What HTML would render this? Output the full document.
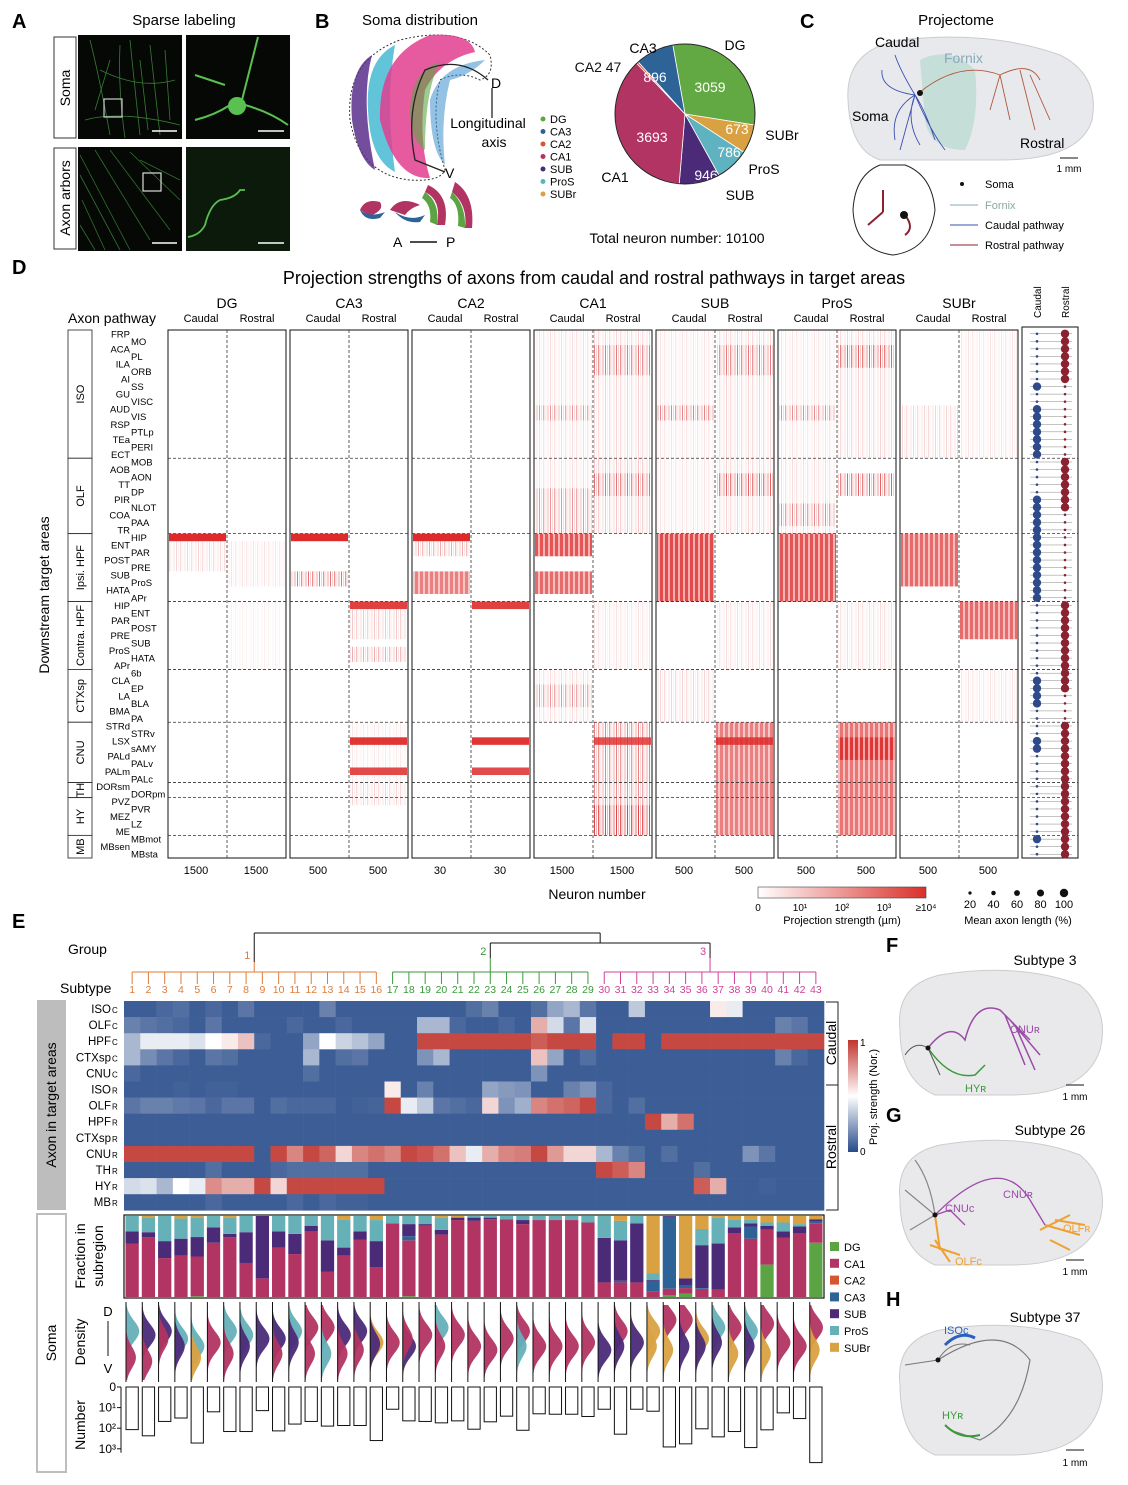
<!DOCTYPE html>
<html><head><meta charset="utf-8">
<style>
html,body{margin:0;padding:0;background:#fff;}
svg{display:block;font-family:"Liberation Sans",Arial,sans-serif;}
.pl{font-size:20px;font-weight:bold;}
</style></head>
<body>
<svg id="fig" width="1128" height="1485" viewBox="0 0 1128 1485" xmlns="http://www.w3.org/2000/svg">
<defs>
<pattern id="stripes" width="11" height="4" patternUnits="userSpaceOnUse">
<rect x="0" y="0" width="1" height="4" fill="#d8282a"/>
<rect x="2" y="0" width="0.8" height="4" fill="#e04040" opacity="0.45"/>
<rect x="4" y="0" width="1.3" height="4" fill="#d8282a" opacity="0.8"/>
<rect x="6.5" y="0" width="0.8" height="4" fill="#e04040" opacity="0.35"/>
<rect x="8.5" y="0" width="1" height="4" fill="#d8282a" opacity="0.65"/>
</pattern>
<pattern id="dense" width="5" height="4" patternUnits="userSpaceOnUse">
<rect x="0" y="0" width="3" height="4" fill="#dd2b2b"/>
<rect x="3" y="0" width="2" height="4" fill="#f2a0a0"/>
</pattern>
<linearGradient id="dgrad" x1="0" x2="1" y1="0" y2="0"><stop offset="0" stop-color="#fff"/><stop offset="1" stop-color="#d9302a"/></linearGradient>
<linearGradient id="egrad" x1="0" x2="0" y1="0" y2="1"><stop offset="0" stop-color="#c0342d"/><stop offset="0.5" stop-color="#fff"/><stop offset="1" stop-color="#274b8a"/></linearGradient>
</defs>

<!-- Panel A -->
<g>
<text class="pl" x="12" y="28">A</text>
<text x="184" y="25" font-size="15" text-anchor="middle">Sparse labeling</text>
<rect x="54" y="37" width="22" height="101" fill="#fff" stroke="#333"/>
<text transform="translate(70,88) rotate(-90)" font-size="14" text-anchor="middle">Soma</text>
<rect x="54" y="148" width="22" height="101" fill="#fff" stroke="#333"/>
<text transform="translate(70,198) rotate(-90)" font-size="14" text-anchor="middle">Axon arbors</text>
<rect x="78" y="35" width="104" height="104" fill="#050805"/>
<rect x="186" y="35" width="104" height="104" fill="#050805"/>
<rect x="78" y="147" width="104" height="104" fill="#050805"/>
<rect x="186" y="147" width="104" height="104" fill="#0b1a0b"/>
<g stroke="#4fae4a" stroke-width="0.8" fill="none" opacity="0.7">
<path d="M90 40 Q100 80 110 135 M120 45 Q118 90 125 138 M130 40 Q135 90 140 135 M140 60 L148 130 M100 70 Q140 90 175 80 M150 45 Q155 90 160 135 M85 120 Q120 110 180 125 M110 60 L95 110 M165 50 L170 120"/>
</g>
<rect x="104" y="99" width="18" height="18" fill="none" stroke="#ccc" stroke-width="1.2"/>
<path d="M258 37 L242 100 M230 105 Q215 115 195 120 M245 105 Q270 112 288 125 M195 75 Q210 80 225 85" stroke="#5ac050" stroke-width="2" fill="none"/>
<circle cx="237" cy="106" r="9" fill="#5ac050"/>
<g stroke="#46a042" stroke-width="0.8" fill="none" opacity="0.7">
<path d="M80 155 L130 250 M80 175 L120 250 M82 200 L105 250 M95 150 L150 240 M110 150 L170 230 M130 152 L180 200 M80 225 L95 250 M140 160 L180 180"/>
</g>
<rect x="143" y="173" width="18" height="18" fill="none" stroke="#ddd" stroke-width="1.2"/>
<path d="M188 237 Q200 235 205 225 Q210 205 220 200 Q235 198 240 190 L245 190" stroke="#5ac050" stroke-width="1.8" fill="none"/>
<g stroke="#fff" stroke-width="1.5">
<line x1="152" y1="131" x2="177" y2="131"/><line x1="258" y1="131" x2="284" y2="131"/>
<line x1="152" y1="243" x2="177" y2="243"/><line x1="258" y1="243" x2="284" y2="243"/>
</g>
</g>

<!-- Panel B -->
<g>
<text class="pl" x="315" y="28">B</text>
<text x="420" y="25" font-size="15" text-anchor="middle">Soma distribution</text>
<path d="M350 120 Q345 60 400 40 Q460 25 490 55 Q495 75 480 80 Q460 70 440 80 Q430 120 445 170 Q440 182 410 180 Q360 175 350 120 Z" fill="none" stroke="#333" stroke-dasharray="2,2"/>
<path d="M352 120 Q348 70 372 55 Q360 100 375 170 Q358 160 352 120 Z" fill="#5b2f8c" opacity="0.85"/>
<path d="M368 110 Q365 60 395 45 Q385 100 395 172 Q370 160 368 110 Z" fill="#3ab5cf" opacity="0.8"/>
<path d="M380 120 Q378 55 430 35 Q470 32 475 52 Q440 60 425 90 Q418 140 430 178 Q395 180 380 120 Z" fill="#e23e8f" opacity="0.85"/>
<path d="M410 110 Q412 70 440 62 Q425 90 425 150 Q410 140 410 110 Z" fill="#5aa843" opacity="0.6"/>
<path d="M430 100 Q440 65 485 60 Q470 75 450 80 Q440 120 445 165 Q430 150 430 100 Z" fill="#3a8fd0" opacity="0.55"/>
<path d="M488 80 Q460 55 425 70 Q405 110 415 160 L445 172" stroke="#222" stroke-width="1.3" fill="none"/>
<line x1="492" y1="118" x2="492" y2="88" stroke="#111" stroke-width="1.2"/>
<text x="491" y="88" font-size="14">D</text>
<text x="445" y="178" font-size="14">V</text>
<text x="488" y="128" font-size="14" text-anchor="middle">Longitudinal</text>
<text x="494" y="147" font-size="14" text-anchor="middle">axis</text>
<g>
<path d="M360 210 Q365 198 380 202 Q385 210 370 216 Z" fill="#b23462"/><path d="M360 210 Q370 218 385 212 L380 218 Q365 222 360 210" fill="#2e6398"/>
<path d="M390 210 Q400 195 420 205 Q410 208 405 215 Z" fill="#b23462"/><path d="M395 212 Q410 222 425 215 L420 222 Q405 224 395 212" fill="#2e6398"/>
<path d="M428 185 Q450 195 445 225 L437 225 Q442 200 425 192 Z" fill="#b23462"/><path d="M425 192 Q440 202 437 225 L430 222 Q432 205 422 198Z" fill="#5ca443"/>
<path d="M455 182 Q475 195 472 228 L465 228 Q468 205 452 192 Z" fill="#b23462"/><path d="M452 192 Q466 205 465 228 L458 226 Q460 205 450 198Z" fill="#5ca443"/>
</g>
<text x="393" y="247" font-size="14">A</text>
<line x1="410" y1="242" x2="437" y2="242" stroke="#111" stroke-width="1.5"/>
<text x="446" y="247" font-size="14">P</text>
<g id="bLegend" font-size="11"></g>
<g id="pie"></g>
<text x="677" y="243" font-size="14" text-anchor="middle">Total neuron number: 10100</text>
</g>

<!-- Panel C -->
<g>
<text class="pl" x="800" y="28">C</text>
<text x="956" y="25" font-size="15" text-anchor="middle">Projectome</text>
<path d="M848 100 Q845 50 900 40 Q990 30 1060 55 Q1100 75 1092 120 Q1080 160 1000 160 L880 160 Q850 150 848 100 Z" fill="#e8e9ec" stroke="#ccc"/>
<path d="M920 60 Q950 45 975 70 Q980 120 965 150 Q930 150 925 120 Z" fill="#b7d9cf" opacity="0.7"/>
<g stroke="#3b4fb0" stroke-width="0.9" fill="none">
<path d="M915 95 Q900 70 895 55 M915 95 Q905 120 920 145 M915 95 Q890 110 895 140 M915 95 Q930 130 945 150 M915 95 Q880 90 882 70 M915 95 Q925 110 935 140 M915 95 L900 150"/>
</g>
<g stroke="#b0573f" stroke-width="0.9" fill="none">
<path d="M920 92 Q960 60 1000 75 Q1030 60 1040 80 M1000 75 L1010 120 M1020 70 L1035 130 M1030 75 L1050 120 M1000 75 L990 110"/>
</g>
<circle cx="920" cy="93" r="3" fill="#111"/>
<text x="875" y="47" font-size="14">Caudal</text>
<text x="944" y="63" font-size="14" fill="#8ab">Fornix</text>
<text x="852" y="121" font-size="14">Soma</text>
<text x="1020" y="148" font-size="14">Rostral</text>
<line x1="1060" y1="158" x2="1078" y2="158" stroke="#111"/>
<text x="1069" y="172" font-size="10" text-anchor="middle">1 mm</text>
<path d="M880 165 Q855 175 853 210 Q855 250 893 255 Q930 250 935 210 Q932 175 905 165 Z" fill="#fff" stroke="#222"/>
<path d="M883 212 L883 190 M883 212 L868 225 M905 215 Q915 228 905 235" stroke="#8b2232" stroke-width="2" fill="none"/>
<circle cx="904" cy="215" r="4" fill="#111"/>
<g font-size="11">
<circle cx="962" cy="184" r="2" fill="#111"/><text x="985" y="188">Soma</text>
<line x1="950" y1="205" x2="978" y2="205" stroke="#8ab"/><text x="985" y="209" fill="#8a9">Fornix</text>
<line x1="950" y1="225" x2="978" y2="225" stroke="#3b4fb0"/><text x="985" y="229">Caudal pathway</text>
<line x1="950" y1="245" x2="978" y2="245" stroke="#8b2232"/><text x="985" y="249">Rostral pathway</text>
</g>
</g>

<!-- Panel D -->
<g>
<text class="pl" x="12" y="274">D</text>
<text x="594" y="284" font-size="18" text-anchor="middle">Projection strengths of axons from caudal and rostral pathways in target areas</text>
<text x="68" y="323" font-size="14">Axon pathway</text>
<text transform="translate(49,595) rotate(-90)" font-size="14" text-anchor="middle">Downstream target areas</text>
<g id="dChart"></g>
<text x="597" y="899" font-size="14" text-anchor="middle">Neuron number</text>
<rect x="758" y="887" width="168" height="11" fill="url(#dgrad)" stroke="#444" stroke-width="0.6"/>
<g font-size="10" text-anchor="middle">
<text x="758" y="911">0</text><text x="800" y="911">10¹</text><text x="842" y="911">10²</text><text x="884" y="911">10³</text><text x="926" y="911">≥10⁴</text>
</g>
<text x="842" y="924" font-size="11" text-anchor="middle">Projection strength (µm)</text>
<g id="dotLegend"></g>
<text x="1018" y="924" font-size="11" text-anchor="middle">Mean axon length (%)</text>
</g>

<!-- Panel E -->
<g>
<text class="pl" x="12" y="928">E</text>
<text x="68" y="954" font-size="14">Group</text>
<text x="60" y="993" font-size="14">Subtype</text>
<rect x="37" y="1000" width="29" height="210" fill="#bdbdbd"/>
<text transform="translate(56,1105) rotate(-90)" font-size="14" text-anchor="middle">Axon in target areas</text>
<rect x="37" y="1214" width="29" height="258" fill="#fff" stroke="#bdbdbd" stroke-width="2"/>
<text transform="translate(56,1343) rotate(-90)" font-size="14" text-anchor="middle">Soma</text>
<text transform="translate(85,1256) rotate(-90)" font-size="14" text-anchor="middle">Fraction in</text>
<text transform="translate(103,1256) rotate(-90)" font-size="14" text-anchor="middle">subregion</text>
<text transform="translate(85,1342) rotate(-90)" font-size="14" text-anchor="middle">Density</text>
<text x="108" y="1316" font-size="13" text-anchor="middle">D</text>
<line x1="108" y1="1321" x2="108" y2="1356" stroke="#111"/>
<text x="108" y="1373" font-size="13" text-anchor="middle">V</text>
<text transform="translate(85,1425) rotate(-90)" font-size="14" text-anchor="middle">Number</text>
<g id="eChart"></g>
<path d="M826 1002 L838 1002 L838 1210 L826 1210" fill="none" stroke="#222"/>
<line x1="826" y1="1085" x2="838" y2="1085" stroke="#222"/>
<text transform="translate(836,1043) rotate(-90)" font-size="14" text-anchor="middle">Caudal</text>
<text transform="translate(836,1147) rotate(-90)" font-size="14" text-anchor="middle">Rostral</text>
<rect x="848" y="1040" width="10" height="112" fill="url(#egrad)"/>
<text x="860" y="1046" font-size="10">1</text>
<text x="860" y="1155" font-size="10">0</text>
<text transform="translate(877,1097) rotate(-90)" font-size="11" text-anchor="middle">Proj. strength (Nor.)</text>
<g id="eLegend" font-size="11"></g>
</g>

<!-- Panels F G H -->
<g>
<text class="pl" x="886" y="952">F</text>
<text x="1045" y="965" font-size="14" text-anchor="middle">Subtype 3</text>
<path d="M900 1030 Q895 985 940 975 Q1020 962 1080 985 Q1110 1010 1100 1050 Q1085 1095 1010 1095 L935 1095 Q900 1080 900 1030 Z" fill="#e9e9eb" stroke="#ccc"/>
<path d="M928 1048 Q950 1020 965 1040 Q975 1000 1000 1010 Q1020 1030 1030 1040 M1005 1015 L1025 1065 M1010 1020 L1040 1055 M1015 1025 L1035 1070" stroke="#9b4aa8" stroke-width="1.5" fill="none"/>
<path d="M928 1048 Q950 1080 975 1075 L985 1065" stroke="#3a9a3a" stroke-width="1.5" fill="none"/>
<path d="M928 1048 Q915 1040 905 1055 M928 1048 L940 1075" stroke="#555" fill="none"/>
<circle cx="928" cy="1048" r="2.5" fill="#111"/>
<text x="1010" y="1033" font-size="11" fill="#9b4aa8">CNUʀ</text>
<text x="965" y="1092" font-size="11" fill="#3a9a3a">HYʀ</text>
<line x1="1066" y1="1085" x2="1084" y2="1085" stroke="#111"/><text x="1075" y="1100" font-size="10" text-anchor="middle">1 mm</text>

<text class="pl" x="886" y="1122">G</text>
<text x="1050" y="1135" font-size="14" text-anchor="middle">Subtype 26</text>
<path d="M900 1200 Q895 1155 940 1145 Q1020 1132 1080 1155 Q1110 1180 1100 1220 Q1085 1265 1010 1265 L935 1265 Q900 1250 900 1200 Z" fill="#e9e9eb" stroke="#ccc"/>
<path d="M935 1215 Q930 1180 915 1160 M935 1215 L905 1190 M935 1215 L910 1230" stroke="#888" stroke-width="1.2" fill="none"/>
<path d="M935 1215 L950 1210 L965 1225 M935 1215 Q1000 1150 1030 1200 L1045 1225" stroke="#9b4aa8" stroke-width="1.3" fill="none"/>
<path d="M935 1215 L940 1250 M930 1245 L960 1255 M935 1240 L950 1262" stroke="#f0a030" stroke-width="2" fill="none"/>
<path d="M1040 1230 L1070 1215 M1045 1225 L1080 1235 M1050 1240 L1070 1250 M1055 1220 L1085 1225" stroke="#f0a030" stroke-width="2" fill="none"/>
<circle cx="935" cy="1215" r="2.5" fill="#111"/>
<text x="945" y="1212" font-size="11" fill="#9b4aa8">CNUᴄ</text>
<text x="1003" y="1198" font-size="11" fill="#9b4aa8">CNUʀ</text>
<text x="1063" y="1232" font-size="11" fill="#f0a030">OLFʀ</text>
<text x="955" y="1265" font-size="11" fill="#f0a030">OLFᴄ</text>
<line x1="1066" y1="1260" x2="1084" y2="1260" stroke="#111"/><text x="1075" y="1275" font-size="10" text-anchor="middle">1 mm</text>

<text class="pl" x="886" y="1306">H</text>
<text x="1045" y="1322" font-size="14" text-anchor="middle">Subtype 37</text>
<path d="M900 1385 Q895 1340 940 1330 Q1020 1317 1080 1340 Q1110 1365 1100 1405 Q1085 1455 1010 1455 L935 1455 Q900 1440 900 1385 Z" fill="#e9e9eb" stroke="#ccc"/>
<path d="M938 1360 Q950 1340 970 1345 M938 1360 Q1000 1320 1030 1360 Q1020 1420 980 1440 L950 1430 M938 1360 L905 1365" stroke="#777" stroke-width="1.1" fill="none"/>
<path d="M945 1345 Q960 1330 975 1338" stroke="#2a5fc0" stroke-width="3" fill="none"/>
<path d="M945 1425 Q960 1440 980 1435" stroke="#3a9a3a" stroke-width="2" fill="none"/>
<circle cx="938" cy="1360" r="2.5" fill="#111"/>
<text x="944" y="1334" font-size="11" fill="#2a5fc0">ISOᴄ</text>
<text x="942" y="1419" font-size="11" fill="#3a9a3a">HYʀ</text>
<line x1="1066" y1="1450" x2="1084" y2="1450" stroke="#111"/><text x="1075" y="1466" font-size="10" text-anchor="middle">1 mm</text>
</g>
</svg>

<script>
// ---------- DATA ----------
// Panel B pie
const pieRegions = ['DG','SUBr','ProS','SUB','CA1','CA2','CA3'];
const pieCounts = [3059, 673, 786, 946, 3693, 47, 896];
const pieColors = ['#63a943','#d9a142','#5fb2bf','#4b2a78','#b23462','#d4572f','#2e6398'];

// Panel D
const dGroups = ['DG','CA3','CA2','CA1','SUB','ProS','SUBr'];
const dTickLabels = ['1500','500','30','1500','500','500','500'];
const dSections = ['ISO','OLF','Ipsi. HPF','Contra. HPF','CTXsp','CNU','TH','HY','MB'];
const dSectionRows = [17,10,9,9,7,8,2,5,3];
const dRegions = ['FRP','MO','ACA','PL','ILA','ORB','AI','SS','GU','VISC','AUD','VIS','RSP','PTLp','TEa','PERI','ECT',
 'MOB','AOB','AON','TT','DP','PIR','NLOT','COA','PAA','TR',
 'HIP','ENT','PAR','POST','PRE','SUB','ProS','HATA','APr',
 'HIP','ENT','PAR','POST','PRE','SUB','ProS','HATA','APr',
 '6b','CLA','EP','LA','BLA','BMA','PA',
 'STRd','STRv','LSX','sAMY','PALd','PALv','PALm','PALc',
 'DORsm','DORpm','PVZ','PVR','MEZ','LZ','ME','MBmot','MBsen','MBsta'];
// bands: [group, pathway(0 caudal,1 rostral), rowStart, rowEnd, intensity]
const dBands = [
 [0,0,27,27,1],[0,0,28,31,0.15],[0,1,28,33,0.1],[0,1,36,44,0.05],
 [1,0,27,27,1],[1,0,32,33,0.5],[1,1,36,36,0.9],[1,1,37,40,0.2],[1,1,42,43,0.3],[1,1,52,59,0.08],[1,1,54,54,0.95],[1,1,58,58,0.85],[1,1,60,62,0.15],
 [2,0,27,27,1],[2,0,28,29,0.3],[2,0,32,34,0.6],[2,1,36,36,0.9],[2,1,54,54,0.95],[2,1,58,58,0.85],
 [3,0,0,16,0.12],[3,0,10,11,0.3],[3,0,17,26,0.12],[3,0,21,26,0.3],[3,0,27,29,0.8],[3,0,32,34,0.7],[3,0,45,51,0.12],[3,0,47,49,0.3],
 [3,1,0,16,0.15],[3,1,2,5,0.4],[3,1,17,26,0.2],[3,1,19,21,0.4],[3,1,36,44,0.1],[3,1,52,59,0.45],[3,1,54,54,0.8],[3,1,60,66,0.4],[3,1,63,66,0.55],
 [4,0,0,16,0.1],[4,0,10,11,0.4],[4,0,17,26,0.1],[4,0,27,35,0.85],[4,0,45,51,0.15],
 [4,1,0,16,0.15],[4,1,2,5,0.4],[4,1,17,26,0.15],[4,1,19,21,0.5],[4,1,36,44,0.12],[4,1,52,66,0.6],[4,1,54,54,0.85],
 [5,0,0,16,0.1],[5,0,10,11,0.35],[5,0,17,26,0.12],[5,0,23,25,0.35],[5,0,27,35,0.8],
 [5,1,0,16,0.15],[5,1,2,4,0.5],[5,1,19,21,0.55],[5,1,36,44,0.12],[5,1,52,66,0.65],[5,1,54,56,0.85],
 [6,0,10,16,0.15],[6,0,27,33,0.7],
 [6,1,0,16,0.1],[6,1,36,40,0.7],[6,1,45,51,0.1]
];
const dotCaudal = [1,1,1,1,1,1,1,3,1,1,3,3,3,3,3,3,3, 1,1,1,1,1,3,3,3,3,3, 3,3,3,3,3,3,3,3,3, 1,1,1,1,1,1,1,1,1, 1,3,3,3,3,1,1, 1,1,3,3,1,1,1,1, 1,1, 1,1,1,1,1, 3,1,1];
const dotRostral = [3,3,3,3,3,3,3,1,1,1,1,1,1,1,1,1,1, 3,3,3,3,3,3,3,1,1,1, 1,1,1,1,1,1,1,1,1, 3,3,3,3,3,3,3,3,3, 3,3,3,1,1,1,1, 3,3,3,3,3,3,3,3, 3,3, 3,3,3,3,3, 3,3,3];
const dotLegendVals = [20,40,60,80,100];

// Panel E
const eRows = ['ISO','OLF','HPF','CTXsp','CNU','ISO','OLF','HPF','CTXsp','CNU','TH','HY','MB'];
const eRowSub = ['C','C','C','C','C','R','R','R','R','R','R','R','R'];
const eGroupOf = [1,1,1,1,1,1,1,1,1,1,1,1,1,1,1,1,2,2,2,2,2,2,2,2,2,2,2,2,2,3,3,3,3,3,3,3,3,3,3,3,3,3,3];
const hISOc = [.05,.05,.08,.1,.05,.08,.05,.12,.05,.05,.05,.05,.15,.05,.05,.05,.05,.05,.05,.05,.05,.1,.15,.05,.05,.1,.25,.3,.12,.05,.05,.35,.05,.05,.05,.05,.55,.45,.05,.05,.05,.05,.05];
const hOLFc = [.15,.12,.1,.08,.05,.12,.05,.05,.05,.05,.08,.05,.05,.08,.05,.05,.05,.05,.3,.3,.08,.05,.05,.08,.05,.7,.4,.12,.42,.05,.05,.05,.05,.05,.05,.05,.05,.05,.05,.05,.15,.12,.05];
const hHPFc = [.3,.45,.45,.45,.42,.5,.55,.65,.08,.05,.05,.25,.5,.38,.33,.25,.05,.05,.95,.95,.95,.95,.95,.95,.95,.9,.95,.95,.95,.05,.95,.95,.05,.95,.95,.95,.95,.95,.95,.95,.95,.95,.95];
const hCTXspc = [.3,.18,.12,.08,.05,.12,.1,.05,.05,.05,.05,.3,.05,.1,.12,.05,.05,.05,.2,.3,.05,.05,.05,.05,.05,.65,.25,.05,.1,.05,.05,.05,.05,.05,.05,.05,.05,.05,.05,.05,.15,.08,.05];
const hCNUc = [.08,.05,.05,.05,.05,.05,.05,.05,.05,.05,.05,.1,.05,.05,.05,.05,.05,.05,.05,.05,.05,.05,.05,.05,.05,.2,.05,.05,.05,.05,.05,.05,.05,.05,.05,.05,.05,.05,.05,.05,.05,.05,.05];
const hISOr = [.05,.05,.05,.06,.05,.06,.06,.05,.05,.05,.05,.05,.05,.05,.05,.05,.55,.05,.15,.05,.05,.05,.25,.22,.2,.05,.05,.15,.2,.08,.05,.05,.05,.05,.05,.05,.05,.05,.05,.05,.05,.05,.05];
const hOLFr = [.12,.15,.15,.13,.12,.08,.12,.12,.05,.1,.08,.08,.08,.05,.06,.07,.95,.45,.35,.12,.1,.08,.6,.2,.28,.8,.85,.88,.95,.08,.05,.1,.05,.05,.05,.05,.05,.05,.05,.05,.05,.05,.05];
const hHPFr = [.05,.05,.05,.05,.05,.05,.05,.05,.05,.05,.05,.05,.05,.05,.05,.05,.05,.05,.05,.05,.05,.05,.05,.05,.05,.05,.05,.05,.05,.05,.05,.05,.95,.7,.85,.05,.05,.05,.05,.05,.05,.05,.05];
const hCTXspr = [.05,.05,.05,.05,.05,.05,.05,.05,.05,.05,.05,.05,.05,.05,.05,.05,.05,.05,.05,.05,.05,.05,.05,.05,.05,.05,.05,.05,.05,.05,.05,.05,.05,.05,.05,.05,.05,.05,.05,.05,.05,.05,.05];
const hCNUr = [.95,.95,.95,.95,.95,.95,.95,.95,.05,.95,.8,.95,.88,.6,.8,.85,.8,.95,.92,.85,.65,.45,.7,.8,.82,.95,.75,.6,.6,.3,.15,.1,.05,.1,.05,.05,.05,.05,.2,.12,.05,.05,.05];
const hTHr = [.05,.05,.05,.05,.05,.1,.05,.05,.05,.08,.1,.1,.1,.1,.1,.05,.05,.05,.05,.05,.05,.05,.05,.05,.05,.05,.05,.05,.05,.95,.9,.8,.05,.05,.05,.1,.05,.05,.05,.05,.05,.05,.05];
const hHYr = [.4,.42,.3,.5,.45,.78,.7,.7,.95,.6,.95,.95,.95,.95,.95,.95,.05,.05,.05,.05,.05,.05,.05,.05,.05,.05,.05,.05,.05,.05,.05,.05,.05,.05,.05,.9,.7,.05,.05,.06,.05,.05,.05];
const hMBr = [.05,.05,.05,.05,.05,.08,.05,.05,.05,.05,.08,.05,.08,.06,.06,.05,.05,.05,.05,.05,.05,.05,.05,.05,.05,.05,.05,.05,.05,.05,.05,.05,.05,.05,.05,.05,.05,.05,.05,.05,.05,.05,.05];
// soma fractions per subtype (bottom to top: DG, CA1, CA3, SUB, ProS, SUBr)
const fDG  = [0,0,0,0,.01,0,0,0,0,0,0,0,0,0,0,0,0,.01,0,0,0,0,0,0,0,0,0,0,0,0,0,0,0,.02,.04,0,0,0,0,.4,0,0,.67];
const fCA1 = [.66,.74,.48,.51,.49,.67,.74,.42,.23,.61,.53,.81,.31,.51,.71,.37,.91,.69,.88,.77,.95,.94,.96,.96,.9,.95,.95,.95,.92,.18,.18,.18,.07,.08,.07,.1,.09,.79,.72,.43,.73,.79,.24];
const fCA3 = [0,0,0,0,0,0,0,0,0,0,0,0,0,0,0,0,0,.05,0,0,0,0,0,0,0,0,0,0,0,0,.02,0,.13,.87,.03,.01,0,0,.15,0,0,0,.02];
const fSUB = [.15,.06,.21,.21,.24,.19,.04,.38,.77,.2,.25,.07,.39,.1,.1,.32,0,.15,.02,.06,.03,.04,.02,0,.05,0,0,0,0,.55,.5,.73,.01,.01,.09,.53,.57,.07,.04,.05,.08,.08,.03];
const fProS = [.19,.18,.31,.25,.24,.14,.2,.2,0,.19,.22,.12,.3,.35,.19,.26,.09,.1,.1,.15,0,.02,.02,.04,.05,.05,.05,.05,.08,.27,.24,.09,.08,0,0,.2,.32,.1,.05,.04,.11,.03,0];
const fSUBr = [0,.02,0,.03,.02,0,.02,0,0,0,0,0,0,.04,0,.05,0,0,0,.02,.02,0,0,0,0,0,0,0,0,0,.06,0,.71,0,.77,.16,.02,.04,.04,.08,.08,.1,.04];
// density peaks (0=dorsal,1=ventral) and colour index (0 DG,1 CA1,2 CA2,3 CA3,4 SUB,5 ProS,6 SUBr)
const densPeak1 = [.35,.4,.35,.45,.55,.5,.35,.4,.45,.45,.35,.3,.3,.4,.35,.5,.5,.55,.4,.3,.4,.55,.6,.45,.35,.55,.55,.55,.5,.6,.35,.5,.35,.2,.2,.45,.3,.3,.35,.25,.5,.55,.3];
const densColor1 = [5,4,4,5,5,1,5,5,4,4,5,1,1,4,4,6,1,4,1,5,1,1,1,1,1,1,1,1,1,4,1,4,6,1,1,6,5,1,5,1,1,1,1];
const densPeak2 = [.7,.75,.45,.55,.7,-1,.65,.55,-1,.65,.5,.65,.65,.65,.6,.52,-1,.45,-1,.55,-1,-1,-1,-1,.55,-1,-1,-1,-1,-1,.55,-1,.55,.6,.55,.55,.5,.65,.55,.65,-1,-1,.6];
const densColor2 = [1,1,1,4,6,1,1,4,1,1,4,1,5,1,1,4,1,1,1,1,1,1,1,1,5,1,1,1,1,1,4,1,6,6,4,4,4,6,4,6,1,1,6];
const neuronCounts = [117,234,47,32,525,16,145,145,14,135,63,47,79,74,74,398,12,44,47,55,44,112,49,26,126,20,21,21,27,12,195,12,15,813,575,107,263,145,871,120,18,34,4677];
const numberTicks = ['0','10¹','10²','10³'];
const legendRegions = ['DG','CA1','CA2','CA3','SUB','ProS','SUBr'];
const regionColors = ['#5ca443','#b23462','#d4572f','#2e6398','#4b2a78','#66b0b8','#d9a142'];

// ---------- HELPERS ----------
const NS = 'http://www.w3.org/2000/svg';
function mk(parent, tag, attrs, text) {
  const el = document.createElementNS(NS, tag);
  for (const k in attrs) el.setAttribute(k, attrs[k]);
  if (text !== undefined) el.textContent = text;
  parent.appendChild(el);
  return el;
}
function heatColor(v) {
  const b = [39,75,138], w = [255,255,255], r = [192,52,45];
  let c;
  if (v < 0.5) { const t = v / 0.5; c = b.map((x,i) => Math.round(x + (w[i]-x)*t)); }
  else { const t = (v-0.5)/0.5; c = w.map((x,i) => Math.round(x + (r[i]-x)*t)); }
  return 'rgb(' + c.join(',') + ')';
}

// ---------- PANEL B legend + pie ----------
const bLeg = document.getElementById('bLegend');
const bLegNames = ['DG','CA3','CA2','CA1','SUB','ProS','SUBr'];
const bLegCols = ['#5aa843','#2e6398','#d4572f','#b23462','#4b2a78','#5fb2bf','#d9a142'];
bLegNames.forEach((n,i) => {
  const c = mk(bLeg, 'circle', {cx:543, cy:119 + i*12.5, r:2.5, fill:bLegCols[i]});
  
  
  const t = mk(bLeg, 'text', {x:550, y:123 + i*12.5}, n);
  
  
});
const pie = document.getElementById('pie');
const pcx = 685, pcy = 114, pr = 70;
const total = pieCounts.reduce((a,b)=>a+b,0);
let ang = -10;
const pieLabelPos = [[710,92,'#fff'],[737,134,'#fff'],[729,157,'#fff'],[706,180,'#fff'],[652,142,'#fff'],[598,72,'#111'],[655,82,'#fff']];
pieCounts.forEach((v,i) => {
  const sweep = v/total*360;
  const a0 = (ang-90)*Math.PI/180, a1 = (ang+sweep-90)*Math.PI/180;
  const large = sweep > 180 ? 1 : 0;
  const d = `M${pcx},${pcy} L${pcx+pr*Math.cos(a0)},${pcy+pr*Math.sin(a0)} A${pr},${pr} 0 ${large} 1 ${pcx+pr*Math.cos(a1)},${pcy+pr*Math.sin(a1)} Z`;
  const p = mk(pie, 'path', {d:d, fill:pieColors[i], stroke:'#fff', 'stroke-width':0.8});
  
  
  ang += sweep;
  const lp = pieLabelPos[i];
  const t = mk(pie, 'text', {x:lp[0], y:lp[1], 'font-size':14, fill:lp[2], 'text-anchor':'middle'}, i===5 ? 'CA2 ' + v : String(v));
  
  
});
mk(pie,'circle',{cx:pcx,cy:pcy,r:pr,fill:'none',stroke:'#222','stroke-width':1});
[['CA3',643,53],['DG',735,50],['SUBr',782,140],['ProS',764,174],['SUB',740,200],['CA1',615,182]].forEach(a => {
  const t = mk(pie,'text',{x:a[1],y:a[2],'font-size':14,'text-anchor':'middle'},a[0]);
  
  
});

// ---------- PANEL D ----------
const dc = document.getElementById('dChart');
const gx0 = 168, gStep = 122, gW = 118, dy0 = 330, dy1 = 858;
const rowH = (dy1 - dy0) / dRegions.length;
const rowY = r => dy0 + r*rowH;
let rAcc = 0;
const sectionBounds = [];
dSections.forEach((s,i) => {
  const y0 = rowY(rAcc), y1 = rowY(rAcc + dSectionRows[i]);
  sectionBounds.push(y1);
  const bx = mk(dc,'rect',{x:68,y:y0,width:24,height:y1-y0,fill:'#fff',stroke:'#222','stroke-width':0.8});
  
  
  const cy = (y0+y1)/2;
  const t = mk(dc,'text',{transform:`translate(84,${cy}) rotate(-90)`,'font-size':11,'text-anchor':'middle'},s);
  
  
  rAcc += dSectionRows[i];
});
dRegions.forEach((n,i) => {
  const odd = i % 2 === 0;
  const t = mk(dc,'text',{x: odd ? 130 : 131, y: rowY(i)+rowH/2+3.5,'font-size':9.5,'text-anchor': odd ? 'end':'start'}, n);
  
  
});
dGroups.forEach((g,gi) => {
  const x = gx0 + gi*gStep;
  const h = mk(dc,'text',{x:x+gW/2,y:308,'font-size':14,'text-anchor':'middle'},g);
  
  
  const c1 = mk(dc,'text',{x:x+33,y:322,'font-size':11,'text-anchor':'middle'},'Caudal');
  
  
  const c2 = mk(dc,'text',{x:x+89,y:322,'font-size':11,'text-anchor':'middle'},'Rostral');
  
  
  [28,88].forEach((off,k) => {
    const t = mk(dc,'text',{x:x+off,y:874,'font-size':11,'text-anchor':'middle'},dTickLabels[gi]);
    
    
  });
});
dBands.forEach(b => {
  const x = gx0 + b[0]*gStep + (b[1] ? gW/2 : 0);
  const y = rowY(b[2]), h = rowY(b[3]+1) - y;
  const single = b[3] === b[2];
  let fill, op;
  if (b[4] >= 0.8 && single) { fill = '#dd2b2b'; op = b[4]; }
  else if (b[4] >= 0.6) { fill = 'url(#dense)'; op = b[4]; }
  else { fill = 'url(#stripes)'; op = Math.min(1, b[4]*1.3); }
  const rc = mk(dc,'rect',{x:x+1,y:y,width:gW/2-2,height:h,fill:fill,opacity:op});
  
  
});
dGroups.forEach((g,gi) => {
  const x = gx0 + gi*gStep;
  const fr = mk(dc,'rect',{x:x,y:dy0,width:gW,height:dy1-dy0,fill:'none',stroke:'#111','stroke-width':1});
  
  
  mk(dc,'line',{x1:x+gW/2,y1:dy0,x2:x+gW/2,y2:dy1,stroke:'#333','stroke-dasharray':'3,2','stroke-width':0.8});
  sectionBounds.slice(0,-1).forEach(yb => mk(dc,'line',{x1:x,y1:yb,x2:x+gW,y2:yb,stroke:'#333','stroke-dasharray':'3,2','stroke-width':0.8}));
});
const dotBox = mk(dc,'rect',{x:1022,y:327,width:56,height:531,fill:'none',stroke:'#111'});


[['Caudal',1041],['Rostral',1069]].forEach(a => {
  const t = mk(dc,'text',{transform:`translate(${a[1]},318) rotate(-90)`,'font-size':10},a[0]);
  
  
});
sectionBounds.slice(0,-1).forEach(yb => mk(dc,'line',{x1:1022,y1:yb,x2:1078,y2:yb,stroke:'#333','stroke-dasharray':'3,2','stroke-width':0.8}));
const dotR = s => s === 3 ? 4.2 : 1.3;
dRegions.forEach((n,i) => {
  const y = rowY(i)+rowH/2;
  mk(dc,'line',{x1:1030,y1:y,x2:1072,y2:y,stroke:'#888','stroke-width':0.5});
  const c1 = mk(dc,'circle',{cx:1037,cy:y,r:dotR(dotCaudal[i]),fill:'#2f4a8a'});
  
  
  const c2 = mk(dc,'circle',{cx:1065,cy:y,r:dotR(dotRostral[i]),fill:'#8b2232'});
  
  
});
const dl = document.getElementById('dotLegend');
dotLegendVals.forEach((v,i) => {
  const x = 970 + i*23.5;
  const c = mk(dl,'circle',{cx:x,cy:893,r:1 + v/100*3.2,fill:'#111'});
  
  
  const t = mk(dl,'text',{x:x,y:908,'font-size':11,'text-anchor':'middle'},String(v));
  
  
});

// ---------- PANEL E ----------
const ec = document.getElementById('eChart');
const ex0 = 124, ex1 = 824, nCol = 43, cw = (ex1-ex0)/nCol, ey0 = 1001, rh = 16.1;
const colX = i => ex0 + i*cw;
const heat = [hISOc,hOLFc,hHPFc,hCTXspc,hCNUc,hISOr,hOLFr,hHPFr,hCTXspr,hCNUr,hTHr,hHYr,hMBr];
const groupColors = {1:'#e07b39',2:'#3a9a3a',3:'#d0409a'};
const dg = mk(ec,'g',{fill:'none','stroke-width':1});


const gRanges = {1:[0,15],2:[16,28],3:[29,42]};
const gTopY = {1:962,2:958,3:958};
Object.keys(gRanges).forEach(g => {
  const [a,b] = gRanges[g];
  const col = groupColors[g];
  const xa = colX(a)+cw/2, xb = colX(b)+cw/2;
  mk(dg,'line',{x1:xa,y1:972,x2:xb,y2:972,stroke:col});
  for (let i=a;i<=b;i++) mk(dg,'line',{x1:colX(i)+cw/2,y1:972,x2:colX(i)+cw/2,y2:984,stroke:col});
  const mid = (xa+xb)/2;
  mk(dg,'line',{x1:mid,y1:gTopY[g],x2:mid,y2:972,stroke:col});
  const t = mk(ec,'text',{x:mid-10,y:gTopY[g]-3,'font-size':11,fill:col},g);
  
  
});
const m1 = (colX(0)+colX(15)+cw)/2, m2 = (colX(16)+colX(28)+cw)/2, m3 = (colX(29)+colX(42)+cw)/2;
mk(dg,'line',{x1:m2,y1:943,x2:m3,y2:943,stroke:'#111'});
mk(dg,'line',{x1:m2,y1:943,x2:m2,y2:958,stroke:'#111'});
mk(dg,'line',{x1:m3,y1:943,x2:m3,y2:958,stroke:'#111'});
const m23 = (m2+m3)/2;
mk(dg,'line',{x1:m1,y1:933,x2:m23,y2:933,stroke:'#111'});
mk(dg,'line',{x1:m1,y1:933,x2:m1,y2:962,stroke:'#111'});
mk(dg,'line',{x1:m23,y1:933,x2:m23,y2:943,stroke:'#111'});
eGroupOf.forEach((g,i) => {
  const t = mk(ec,'text',{x:colX(i)+cw/2,y:993,'font-size':10.5,'text-anchor':'middle',fill:groupColors[g]},String(i+1));
  
  
});
heat.forEach((row,r) => {
  row.forEach((v,i) => {
    const rc = mk(ec,'rect',{x:colX(i),y:ey0+r*rh,width:cw+0.3,height:rh+0.3,fill:heatColor(v)});
    
    
  });
  const t = mk(ec,'text',{x:111,y:ey0+r*rh+12,'font-size':11.5,'text-anchor':'end'},eRows[r]);
  
  
  const s = mk(ec,'text',{x:112,y:ey0+r*rh+12,'font-size':8},eRowSub[r]);
  
  
});
const sb0 = 1216, sbH = 81;
const stackSeries = [fDG,fCA1,fCA3,fSUB,fProS,fSUBr];
const stackColors = ['#5ca443','#b23462','#2e6398','#4b2a78','#66b0b8','#d9a142'];
const stackNames = ['dg','ca1','ca3','sub','pros','subr'];
for (let i=0;i<nCol;i++) {
  let tot = 0; stackSeries.forEach(s => tot += s[i]);
  let y = sb0 + sbH;
  stackSeries.forEach((s,k) => {
    const h = s[i]/tot*sbH;
    if (h <= 0) return;
    y -= h;
    const rc = mk(ec,'rect',{x:colX(i)+1.5,y:y,width:cw-3,height:h,fill:stackColors[k]});
    
    
  });
}
const sbFrame = mk(ec,'rect',{x:ex0,y:1215,width:ex1-ex0,height:83,fill:'none',stroke:'#111','stroke-width':1.2});


const dTop = 1305, dBot = 1380;
function densPath(x, peak, amp) {
  let d = `M${x},${dTop}`;
  for (let k=0;k<=30;k++) {
    const t = k/30, y = dTop + t*(dBot-dTop);
    const w = amp*Math.exp(-Math.pow((t-peak)/0.2,2));
    d += ` L${x+w},${y}`;
  }
  return d + ` L${x},${dBot} Z`;
}
const densCols = ['#5ca443','#b23462','#d4572f','#2e6398','#4b2a78','#66b0b8','#d9a142'];
for (let i=0;i<nCol;i++) {
  const x = colX(i)+2;
  const p1 = mk(ec,'path',{d:densPath(x,densPeak1[i],cw-3),fill:densCols[densColor1[i]],opacity:0.95});
  
  
  if (densPeak2[i] >= 0) {
    const p2 = mk(ec,'path',{d:densPath(x,densPeak2[i],(cw-3)*0.75),fill:densCols[densColor2[i]],opacity:0.95});
    
    
  }
  mk(ec,'line',{x1:x,y1:1302,x2:x,y2:1382,stroke:'#111','stroke-width':1});
}
const nb0 = 1387, decade = 20.6;
const yNum = c => nb0 + Math.log10(Math.max(1,c))*decade;
numberTicks.forEach((t,k) => {
  const tx = mk(ec,'text',{x:116,y:nb0+k*decade+4,'font-size':12,'text-anchor':'end'},t);
  
  
  mk(ec,'line',{x1:117,y1:nb0+k*decade,x2:121,y2:nb0+k*decade,stroke:'#111'});
});
mk(ec,'line',{x1:121,y1:nb0,x2:121,y2:nb0+3*decade+4,stroke:'#111'});
neuronCounts.forEach((c,i) => {
  const rc = mk(ec,'rect',{x:colX(i)+2,y:nb0,width:cw-4,height:yNum(c)-nb0,fill:'#fff',stroke:'#111','stroke-width':1});
  
  
});
const el = document.getElementById('eLegend');
legendRegions.forEach((n,i) => {
  const r = mk(el,'rect',{x:830,y:1242+i*16.8,width:9,height:9,fill:regionColors[i]});
  
  
  const t = mk(el,'text',{x:844,y:1251+i*16.8},n);
  
  
});
</script>
</body></html>
